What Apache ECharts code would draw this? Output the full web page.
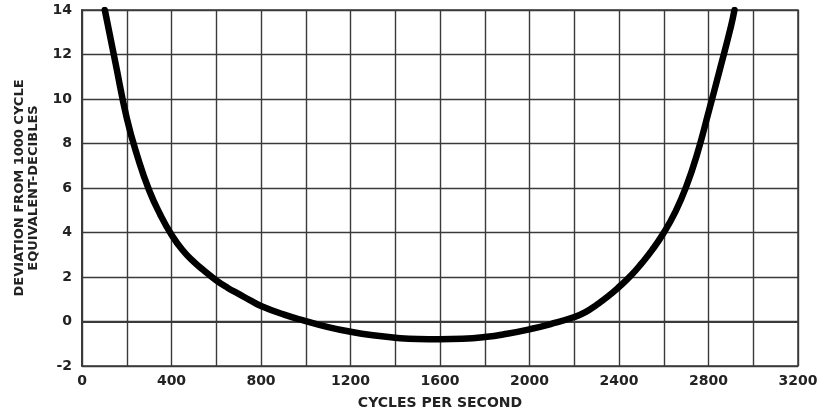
<!DOCTYPE html>
<html>
<head>
<meta charset="utf-8">
<script src="https://cdn.jsdelivr.net/npm/echarts@6/dist/echarts.min.js"></script>
<style>
  html, body { margin: 0; padding: 0; background: #fff; }
  #chart { width: 827px; height: 415px; }
</style>
</head>
<body>
<div id="chart"></div>
<script>
// Frequency response: deviation from the 1000-cycle equivalent, in decibels
const frequencies = [102, 150, 200, 250, 300, 350, 400, 450, 500, 550, 600, 650, 700, 750, 800, 900, 1000, 1100, 1200, 1300, 1400, 1500, 1600, 1700, 1800, 1900, 2000, 2100, 2200, 2250, 2300, 2350, 2400, 2450, 2500, 2550, 2600, 2650, 2700, 2750, 2800, 2850, 2900, 2916];
const deviations  = [14, 11.6, 9.15, 7.35, 5.9, 4.8, 3.9, 3.2, 2.68, 2.25, 1.85, 1.52, 1.24, 0.96, 0.7, 0.32, 0.02, -0.25, -0.46, -0.62, -0.73, -0.79, -0.8, -0.78, -0.7, -0.55, -0.35, -0.1, 0.2, 0.42, 0.75, 1.12, 1.55, 2.03, 2.6, 3.24, 3.99, 4.89, 6.05, 7.55, 9.4, 11.3, 13.25, 14];

const xTicks = [0, 400, 800, 1200, 1600, 2000, 2400, 2800, 3200];
const yTicks = [-2, 0, 2, 4, 6, 8, 10, 12, 14];

const gridColor = '#3a3a3a';
const textColor = '#222222';
const font = 'DejaVu Sans';

const chart = echarts.init(document.getElementById('chart'), null, { renderer: 'canvas' });

chart.setOption({
  backgroundColor: '#ffffff',
  animation: false,
  grid: { left: 82, right: 29, top: 10, bottom: 48, show: true, borderColor: gridColor, borderWidth: 1.5 },
  xAxis: {
    type: 'value',
    min: 0,
    max: 3200,
    interval: 200,
    name: 'CYCLES PER SECOND',
    nameLocation: 'middle',
    nameGap: 30,
    nameTextStyle: { fontFamily: font, fontSize: 14, color: textColor, fontWeight: 'bold' },
    axisLine: { show: true, lineStyle: { color: gridColor, width: 2 } },
    axisTick: { show: false },
    axisLabel: {
      fontFamily: font, fontSize: 14, fontWeight: 'bold', color: textColor, margin: 8,
      formatter: v => (xTicks.includes(v) ? String(v) : '')
    },
    splitLine: { show: true, lineStyle: { color: gridColor, width: 1.4 } }
  },
  yAxis: {
    type: 'value',
    min: -2,
    max: 14,
    interval: 2,
    name: 'DEVIATION FROM 1000 CYCLE\nEQUIVALENT-DECIBLES',
    nameLocation: 'middle',
    nameGap: 41,
    nameRotate: 90,
    nameTextStyle: { fontFamily: font, fontSize: 13, color: textColor, fontWeight: 'bold', lineHeight: 14 },
    axisLine: { show: true, lineStyle: { color: gridColor, width: 2 } },
    axisTick: { show: false },
    axisLabel: {
      fontFamily: font, fontSize: 14, fontWeight: 'bold', color: textColor, margin: 10,
      formatter: v => (yTicks.includes(v) ? String(v) : '')
    },
    splitLine: { show: true, lineStyle: { color: gridColor, width: 1.4 } }
  },
  series: [{
    type: 'line',
    data: frequencies.map((f, i) => [f, deviations[i]]),
    smooth: 0.5,
    showSymbol: false,
    clip: true,
    lineStyle: { color: '#000', width: 6.5, cap: 'round' }
  }]
});
</script>
</body>
</html>
